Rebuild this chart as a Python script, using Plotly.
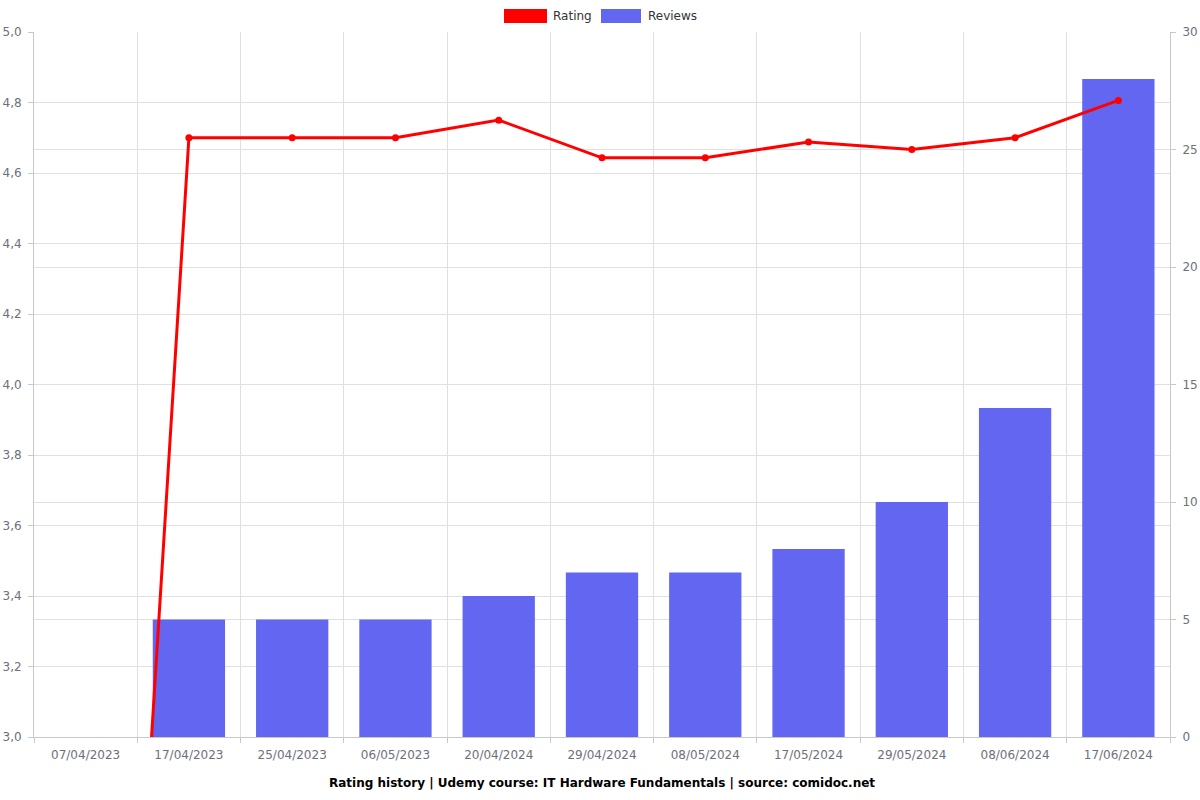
import plotly.graph_objects as go

dates = ["07/04/2023", "17/04/2023", "25/04/2023", "06/05/2023", "20/04/2024",
         "29/04/2024", "08/05/2024", "17/05/2024", "29/05/2024", "08/06/2024", "17/06/2024"]
rating = [0, 4.7, 4.7, 4.7, 4.75, 4.643, 4.643, 4.688, 4.667, 4.7, 4.806]
reviews = [0, 5, 5, 5, 6, 7, 7, 8, 10, 14, 28]

RED = "#ff0000"
BLUE = "#6366f1"
AX = "#6e7079"
GRID = "#e0e0e0"
LINE = "#c8c8c8"
FONT = "DejaVu Sans, Verdana, sans-serif"

W, H = 1200, 800
L, R, T, B = 34, 30, 32, 63
PW, PH = W - L - R, H - T - B


def px(x):
    return (x - L) / PW


def py(y):
    return (H - B - y) / PH


fig = go.Figure()
fig.add_trace(go.Bar(x=dates, y=reviews, name="Reviews", marker=dict(color=BLUE, line=dict(width=0)),
                     yaxis="y", showlegend=False))
fig.add_trace(go.Scatter(x=dates, y=rating, name="Rating", mode="lines+markers",
                         line=dict(color=RED, width=3), marker=dict(color=RED, size=7),
                         yaxis="y2", showlegend=False))

axis_common = dict(showline=True, linecolor=LINE, ticks="outside", ticklen=5, tickcolor=LINE,
                   showgrid=True, gridcolor=GRID, automargin=False,
                   tickfont=dict(size=12, color=AX))

# manual legend (wide rectangles, as in the reference)
shapes = [
    dict(type="rect", xref="paper", yref="paper", x0=px(504), x1=px(547), y0=py(23), y1=py(9),
         fillcolor=RED, line=dict(width=0)),
    dict(type="rect", xref="paper", yref="paper", x0=px(601), x1=px(641), y0=py(23), y1=py(9),
         fillcolor=BLUE, line=dict(width=0)),
]
annotations = [
    dict(text="Rating", x=px(551), y=py(16), xref="paper", yref="paper", xanchor="left", yanchor="middle",
         showarrow=False, font=dict(size=12, color="#333333", family=FONT)),
    dict(text="Reviews", x=px(646), y=py(16), xref="paper", yref="paper", xanchor="left", yanchor="middle",
         showarrow=False, font=dict(size=12, color="#333333", family=FONT)),
    dict(text="<b>Rating history | Udemy course: IT Hardware Fundamentals | source: comidoc.net</b>",
         x=0.5, xref="paper", y=py(783), yref="paper", yanchor="middle", showarrow=False,
         font=dict(size=12, color="#000000", family=FONT)),
]

fig.update_layout(
    width=W, height=H,
    margin=dict(l=L, r=R, t=T, b=B),
    plot_bgcolor="white", paper_bgcolor="white",
    separators=",.",
    font=dict(family=FONT, size=12, color=AX),
    bargap=0.3,
    showlegend=False,
    xaxis=dict(type="category", tickson="boundaries", range=[-0.5, 10.5], ticklabelstandoff=7,
               **axis_common),
    yaxis=dict(range=[0, 30], dtick=5, side="right", zeroline=False, ticklabelstandoff=4,
               **axis_common),
    yaxis2=dict(range=[3, 5], dtick=0.2, tickformat=".1f", side="left", overlaying="y",
                zeroline=False, ticklabelstandoff=4, **axis_common),
    shapes=shapes,
    annotations=annotations,
)
fig.write_html("out.html")
